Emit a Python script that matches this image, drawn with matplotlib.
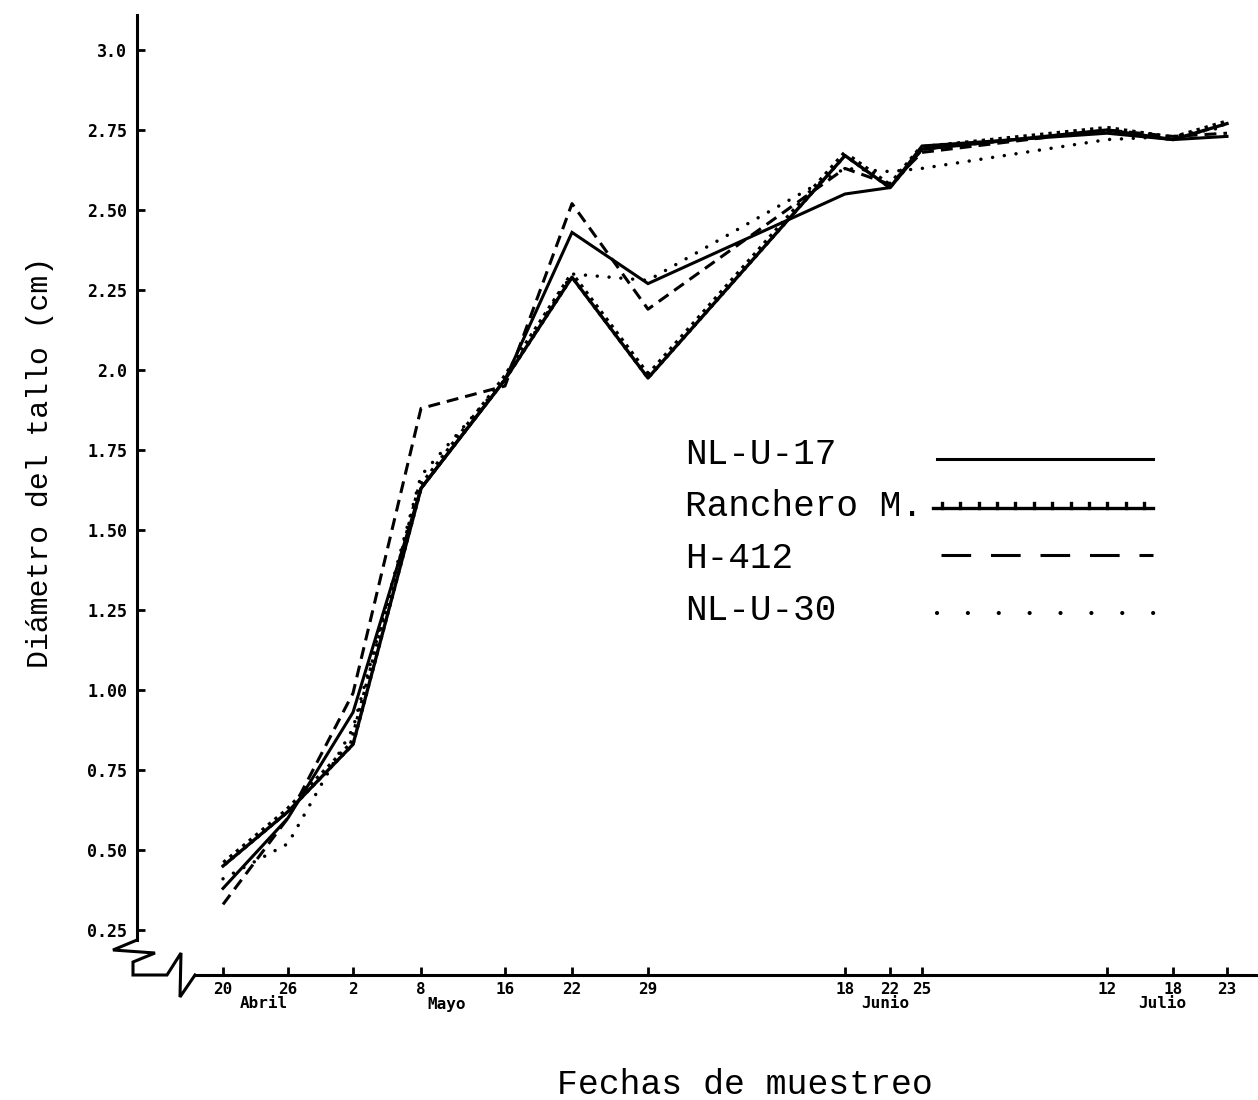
import numpy as np
import matplotlib
matplotlib.use("Agg")
import matplotlib.pyplot as plt
import matplotlib.patheffects as pe
from matplotlib.lines import Line2D

# fechas de muestreo: posicion sobre el eje tal como esta dibujado (no es lineal en dias)
fechas_pos = [0, 65, 130, 198, 282, 349, 425, 622, 667, 699, 884, 950, 1004]
dias = ["20", "26", "2", "8", "16", "22", "29", "18", "22", "25", "12", "18", "23"]
meses = ["Abril", "Mayo", "Junio", "Julio"]

nl_u_17 = [0.38, 0.60, 0.93, 1.63, 1.97, 2.43, 2.27, 2.55, 2.57, 2.70, 2.74, 2.72, 2.73]
ranchero = [0.45, 0.62, 0.83, 1.63, 1.97, 2.29, 1.975, 2.67, 2.57, 2.69, 2.75, 2.72, 2.77]
h_412 = [0.33, 0.60, 0.99, 1.88, 1.95, 2.52, 2.19, 2.63, 2.58, 2.68, 2.75, 2.73, 2.74]
nl_u_30 = [0.41, 0.52, 0.88, 1.67, 1.97, 2.30, 2.28, 2.63, 2.62, 2.63, 2.72, 2.73, 2.76]

nombres = ["NL-U-17", "Ranchero M.", "H-412", "NL-U-30"]

y_ticks = [0.25, 0.50, 0.75, 1.00, 1.25, 1.50, 1.75, 2.0, 2.25, 2.50, 2.75, 3.0]
y_labels = ["0.25", "0.50", "0.75", "1.00", "1.25", "1.50", "1.75", "2.0",
            "2.25", "2.50", "2.75", "3.0"]

W, H = 1258, 1100


def fx(px):
    return px / W


def fy(py):
    return 1 - py / H


fig = plt.figure(figsize=(W / 100, H / 100), dpi=100)
fig.patch.set_facecolor("white")

ax = fig.add_axes([fx(137), fy(975), fx(1258) - fx(137), fy(15) - fy(975)])
ax.set_xlim(-86, 1035)
ax.set_ylim(0.25 + (930 - 975) / 320, 0.25 + (930 - 15) / 320)

k = "black"
ax.plot(fechas_pos, nl_u_17, color=k, lw=2.2, solid_joinstyle="miter")
ax.plot(fechas_pos, ranchero, color=k, lw=2.4,
        path_effects=[pe.withTickedStroke(spacing=6, angle=90, length=0.3)])
ax.plot(fechas_pos, h_412, color=k, lw=2.2, linestyle=(0, (3.9, 2.3)))
ax.plot(fechas_pos, nl_u_30, color=k, lw=2.5, linestyle=(0, (0.01, 3.4)),
        dash_capstyle="round")

# ejes
for s in ["top", "right"]:
    ax.spines[s].set_visible(False)
ax.spines["left"].set_linewidth(2.2)
ax.spines["bottom"].set_linewidth(2.2)
ax.spines["left"].set_bounds(0.25 - 10 / 320, ax.get_ylim()[1])
ax.spines["bottom"].set_bounds(-28, 1035)

mono = "DejaVu Sans Mono"
ax.set_yticks(y_ticks)
ax.set_yticklabels(y_labels, family=mono, fontweight="bold", fontsize=12)
ax.set_xticks(fechas_pos)
ax.set_xticklabels(dias, family=mono, fontweight="bold", fontsize=11.5)
ax.tick_params(axis="y", direction="in", length=6, width=2, pad=7)
ax.tick_params(axis="x", direction="in", length=6, width=2, pad=5)

# meses debajo de los dias
mes_x = [(fechas_pos[0] + fechas_pos[1]) / 2, fechas_pos[3], fechas_pos[8], fechas_pos[11]]
mes_dx = [8, 26, -5, -11]
for m, x, dx in zip(meses, mes_x, mes_dx):
    ax.annotate(m, xy=(x, 0), xycoords=("data", "axes fraction"),
                xytext=(dx, -29), textcoords="offset pixels",
                ha="center", va="center", family=mono, fontweight="bold", fontsize=11.5)

# corte de los ejes
zx = [137, 113, 155, 133, 133, 167, 181, 180, 195]
zy = [940, 950, 953, 962, 975, 975, 953, 997, 975]
fig.add_artist(Line2D([fx(v) for v in zx], [fy(v) for v in zy], color=k, lw=2.2,
                      solid_joinstyle="miter"))

# titulos de ejes
lab = "Liberation Mono"
fig.text(fx(40), fy(462), "Diámetro del tallo (cm)", rotation=90, ha="center",
         va="center", family=lab, fontsize=21.5)
fig.text(fx(745), fy(1085), "Fechas de muestreo", ha="center", va="center",
         family=lab, fontsize=25)

# leyenda
fila_y = [455, 507, 559, 611]
linea_y = [459, 508, 555, 613]
x0, x1 = 937, 1153
for nom, ty in zip(nombres, fila_y):
    fig.text(fx(685), fy(ty), nom, ha="left", va="center", family=lab, fontsize=26)

fig.add_artist(Line2D([fx(x0), fx(x1)], [fy(linea_y[0])] * 2, color=k, lw=2.2))
fig.add_artist(Line2D([fx(933), fx(x1)], [fy(linea_y[1])] * 2, color=k, lw=2.4,
                      path_effects=[pe.withTickedStroke(spacing=13, angle=90, length=0.25)]))
fig.add_artist(Line2D([fx(941), fx(x1)], [fy(linea_y[2])] * 2, color=k, lw=2.2,
                      linestyle=(0, (9.7, 6.5))))
fig.add_artist(Line2D([fx(x0), fx(x1 + 4)], [fy(linea_y[3])] * 2, color=k, lw=3,
                      linestyle=(0, (0.01, 7.4)), dash_capstyle="round"))

fig.savefig("out.png", dpi=100, facecolor="white")
